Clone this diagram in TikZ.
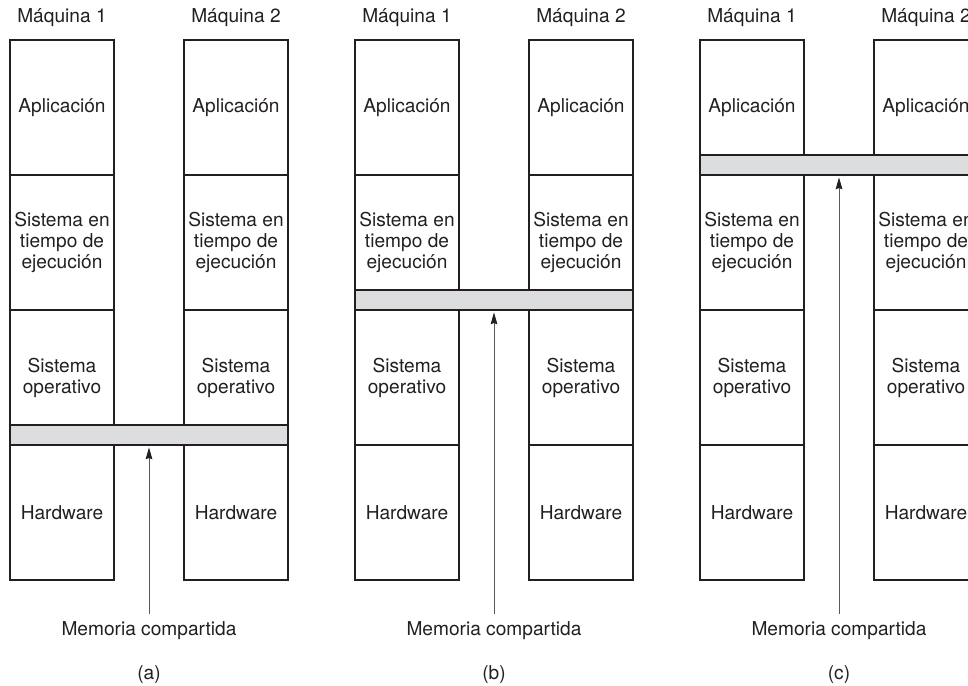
\documentclass[tikz,border=0pt]{standalone}
\usepackage{fontspec}
\setmainfont{TeX Gyre Heros}
\usetikzlibrary{arrows.meta}
\definecolor{tinta}{HTML}{231F20}
\definecolor{gris}{HTML}{DCDDDF}
\tikzset{
  texto/.style={text=tinta, font=\fontsize{13.6}{14.9}\selectfont, align=center},
  capa/.style={texto, draw=tinta, line width=1.4pt, minimum width=2.6cm, minimum height=3.375cm, inner sep=0pt},
  barra/.style={draw=tinta, fill=gris, line width=1.4pt, minimum width=6.95cm, minimum height=0.5cm, inner sep=0pt},
  flecha/.style={draw=black!65, line width=0.6pt, -{Stealth[length=8.5pt, width=4.8pt, inset=1pt, color=tinta]}}
}
\begin{document}
\begin{tikzpicture}[x=0.025cm, y=-0.025cm]
    \clip (0,0) rectangle (968,685);
    % three variants: (a) hardware, (b) runtime, (c) application level
    \foreach \p/\ox/\b in {a/0/2, b/345/1, c/690/0} {
        \foreach \m/\mx in {1/62, 2/236} {
            \node[texto] (maq\p\m) at (\ox+\mx, 18) {Máquina \m};
            \foreach \t [count=\i from 0] in {Aplicación, {Sistema en\\tiempo de\\ejecución}, {Sistema\\operativo}, Hardware} {
                \node[capa] (\p\m\i) at (\ox+\mx, 107.5+135*\i) {\t};
            }
        }
        \node[barra] (bar\p) at (\ox+149, 165+135*\b) {};
        \node[texto] (mem\p) at (\ox+149, 631) {Memoria compartida};
        \draw[flecha, shorten <=2pt, shorten >=1pt] (mem\p) -- (bar\p.south);
        \node[texto] (fig\p) at (\ox+149, 675) {(\p)};
    }
\end{tikzpicture}
\end{document}
